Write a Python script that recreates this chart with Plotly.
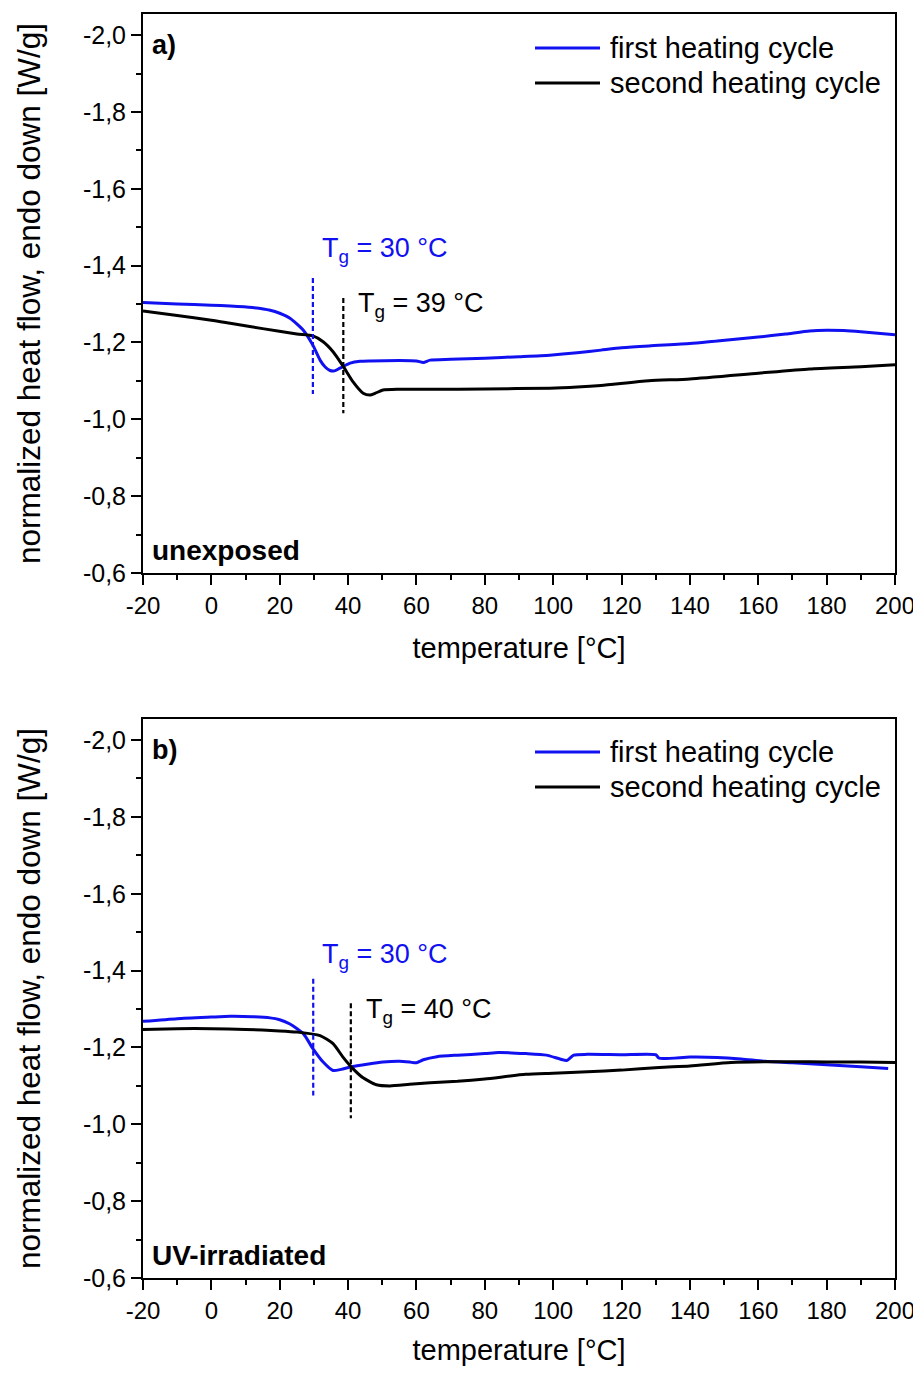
import plotly.graph_objects as go
from plotly.subplots import make_subplots

# ---------- data ----------
series_names = ["first heating cycle", "second heating cycle"]

# Panel a) unexposed
a_first_T = [-20, -10, 0, 5.5, 12, 17.2, 20, 23, 26.9, 29.7, 31.8, 33.3, 34.7, 36, 37.6, 40.6, 43.5, 46.4, 55, 60, 62, 64, 70, 80, 90, 99, 107, 114, 120, 128, 140, 148, 160, 168, 175, 180, 185, 190, 195, 200]
a_first_Q = [-1.304, -1.3, -1.297, -1.295, -1.291, -1.284, -1.276, -1.263, -1.232, -1.193, -1.154, -1.136, -1.127, -1.126, -1.133, -1.146, -1.151, -1.152, -1.153, -1.152, -1.148, -1.154, -1.156, -1.159, -1.163, -1.167, -1.173, -1.18, -1.186, -1.191, -1.197, -1.204, -1.214, -1.222, -1.23, -1.232, -1.231, -1.228, -1.224, -1.22]

a_second_T = [-20, -10, 0, 5.5, 15, 25, 29.7, 32.7, 35.6, 38.5, 41.4, 44.4, 46.4, 48, 50.2, 55, 64, 80, 99, 107, 114, 128, 140, 160, 175, 190, 200]
a_second_Q = [-1.282, -1.27, -1.258, -1.25, -1.236, -1.222, -1.217, -1.202, -1.176, -1.139, -1.098, -1.068, -1.063, -1.068, -1.076, -1.078, -1.078, -1.079, -1.081, -1.084, -1.088, -1.1, -1.105, -1.12, -1.131, -1.137, -1.142]

# Panel b) UV-irradiated
b_first_T = [-20, -10, 0, 5.5, 12, 17.2, 20, 23, 26.9, 29.7, 32.7, 35.6, 38, 40.6, 46, 50.2, 55, 58, 60, 62, 66, 72, 80, 84, 92, 98, 102, 104, 106, 110, 120, 130, 131, 140, 148, 155, 162, 170, 180, 190, 198]
b_first_Q = [-1.268, -1.275, -1.279, -1.281, -1.28, -1.277, -1.272, -1.261, -1.236, -1.197, -1.162, -1.14, -1.143, -1.149, -1.157, -1.162, -1.164, -1.162, -1.16, -1.168, -1.176, -1.18, -1.184, -1.187, -1.184, -1.18, -1.17, -1.166, -1.18, -1.182, -1.181, -1.181, -1.172, -1.175, -1.174, -1.17, -1.164, -1.16, -1.155, -1.15, -1.145]

b_second_T = [-20, -10, 0, 10, 20, 25, 31.8, 35.6, 38.5, 41.4, 44.4, 48.3, 52.2, 58, 64, 72, 80, 92, 100, 110, 120, 131, 140, 152, 162, 170, 180, 190, 200]
b_second_Q = [-1.247, -1.249, -1.249, -1.247, -1.243, -1.24, -1.231, -1.21, -1.175, -1.145, -1.121, -1.103, -1.1, -1.104, -1.108, -1.112, -1.118, -1.13, -1.133, -1.137, -1.141, -1.148, -1.152, -1.161, -1.163, -1.163, -1.162, -1.162, -1.161]

# Tg values (labels) and dashed marker positions / extents
a_tg_values = [30, 39]
b_tg_values = [30, 40]
a_tg_line_T = [29.7, 38.6]
b_tg_line_T = [29.8, 40.8]
a_tg_spans = [[-1.368, -1.066], [-1.316, -1.016]]
b_tg_spans = [[-1.379, -1.075], [-1.315, -1.016]]

x_ticks = [-20, 0, 20, 40, 60, 80, 100, 120, 140, 160, 180, 200]
y_ticks = [-2.0, -1.8, -1.6, -1.4, -1.2, -1.0, -0.8, -0.6]
x_ticktext = ["%d" % v for v in x_ticks]
y_ticktext = [("%.1f" % v).replace(".", ",") for v in y_ticks]

BLUE = "#1010f0"
BLACK = "#000000"
FONT = "Liberation Sans, Arial, sans-serif"

fig = make_subplots(rows=2, cols=1, vertical_spacing=0.1147)

panels = [
    (1, a_first_T, a_first_Q, a_second_T, a_second_Q, a_tg_line_T, a_tg_spans),
    (2, b_first_T, b_first_Q, b_second_T, b_second_Q, b_tg_line_T, b_tg_spans),
]
colors = [BLUE, BLACK]

for row, fT, fQ, sT, sQ, tgT, spans in panels:
    for (T, Q), nm, c in zip([(fT, fQ), (sT, sQ)], series_names, colors):
        fig.add_trace(go.Scatter(x=T, y=Q, mode="lines", name=nm, showlegend=False,
                                 line=dict(color=c, width=3, shape="spline", smoothing=0.6)),
                      row=row, col=1)
    for t, sp, c in zip(tgT, spans, colors):
        fig.add_trace(go.Scatter(x=[t, t], y=sp, mode="lines", showlegend=False,
                                 line=dict(color=c, width=2.2, dash="5px,3px"), hoverinfo="skip"),
                      row=row, col=1)

axis_common = dict(
    showline=True, linecolor="black", linewidth=2, mirror=True,
    ticks="outside", ticklen=10, tickwidth=2, tickcolor="black",
    showgrid=False, zeroline=False, automargin=False, ticklabeloverflow="allow",
)

for row in (1, 2):
    fig.update_xaxes(range=[-20, 200], tickvals=x_ticks, ticktext=x_ticktext,
                     tickfont=dict(family=FONT, size=24, color="black"),
                     minor=dict(dtick=10, tick0=-20, ticks="outside", ticklen=5, tickwidth=2, tickcolor="black"),
                     title=dict(text="temperature [°C]", font=dict(family=FONT, size=29, color="black"), standoff=20),
                     **axis_common, row=row, col=1)
    fig.update_yaxes(range=[-0.6, -2.055], tickvals=y_ticks, ticktext=y_ticktext,
                     tickfont=dict(family=FONT, size=25, color="black"),
                     minor=dict(dtick=0.1, tick0=-2.0, ticks="outside", ticklen=5, tickwidth=2, tickcolor="black"),
                     title=dict(text="normalized heat flow, endo down [W/g]", font=dict(family=FONT, size=31.5, color="black"), standoff=33),
                     **axis_common, row=row, col=1)

ann = []
shapes = []
# legend rows in paper coordinates: (y of first entry, y of second entry)
legend_rows = [(0.9731, 0.9454), (0.4161, 0.3884)]
for (xr, yr, tag, name, tgv, tgT, ys), lrow in zip([
    ("x", "y", "a)", "unexposed", a_tg_values, a_tg_line_T, (-1.44, -1.297)),
    ("x2", "y2", "b)", "UV-irradiated", b_tg_values, b_tg_line_T, (-1.439, -1.296)),
], legend_rows):
    ann.append(dict(xref=xr + " domain", yref=yr + " domain", x=0.009, y=0.945, text="<b>" + tag + "</b>",
                    showarrow=False, xanchor="left", yanchor="middle",
                    font=dict(family=FONT, size=27, color="black")))
    ann.append(dict(xref=xr + " domain", yref=yr + " domain", x=0.009, y=0.041, text="<b>" + name + "</b>",
                    showarrow=False, xanchor="left", yanchor="middle",
                    font=dict(family=FONT, size=28, color="black")))
    offs = [2.0, 3.8]
    for v, t, y, c, o in zip(tgv, tgT, ys, colors, offs):
        ann.append(dict(xref=xr, yref=yr, x=t + o, y=y, text="T<sub>g</sub> = %d °C" % v,
                        showarrow=False, xanchor="left", yanchor="middle",
                        font=dict(family=FONT, size=27, color=c)))
    for nm, c, ly in zip(series_names, colors, lrow):
        shapes.append(dict(type="line", xref="paper", yref="paper", x0=0.5213, x1=0.6077, y0=ly, y1=ly,
                           line=dict(color=c, width=3)))
        ann.append(dict(xref="paper", yref="paper", x=0.6184, y=ly, text=nm, showarrow=False,
                        xanchor="left", yanchor="middle", font=dict(family=FONT, size=29, color="black")))

# page body adds an 8px offset, so the figure is drawn smaller with margins shifted
fig.update_layout(
    width=913, height=1358,
    margin=dict(l=135, r=26, t=6, b=88),
    paper_bgcolor="white", plot_bgcolor="white",
    separators=",.",
    showlegend=False,
    annotations=ann,
    shapes=shapes,
    font=dict(family=FONT, color="black"),
)
fig.update_yaxes(domain=[0.5578, 1.0], row=1, col=1)
fig.update_yaxes(domain=[0.0, 0.4423], row=2, col=1)

fig.write_html("out.html")
